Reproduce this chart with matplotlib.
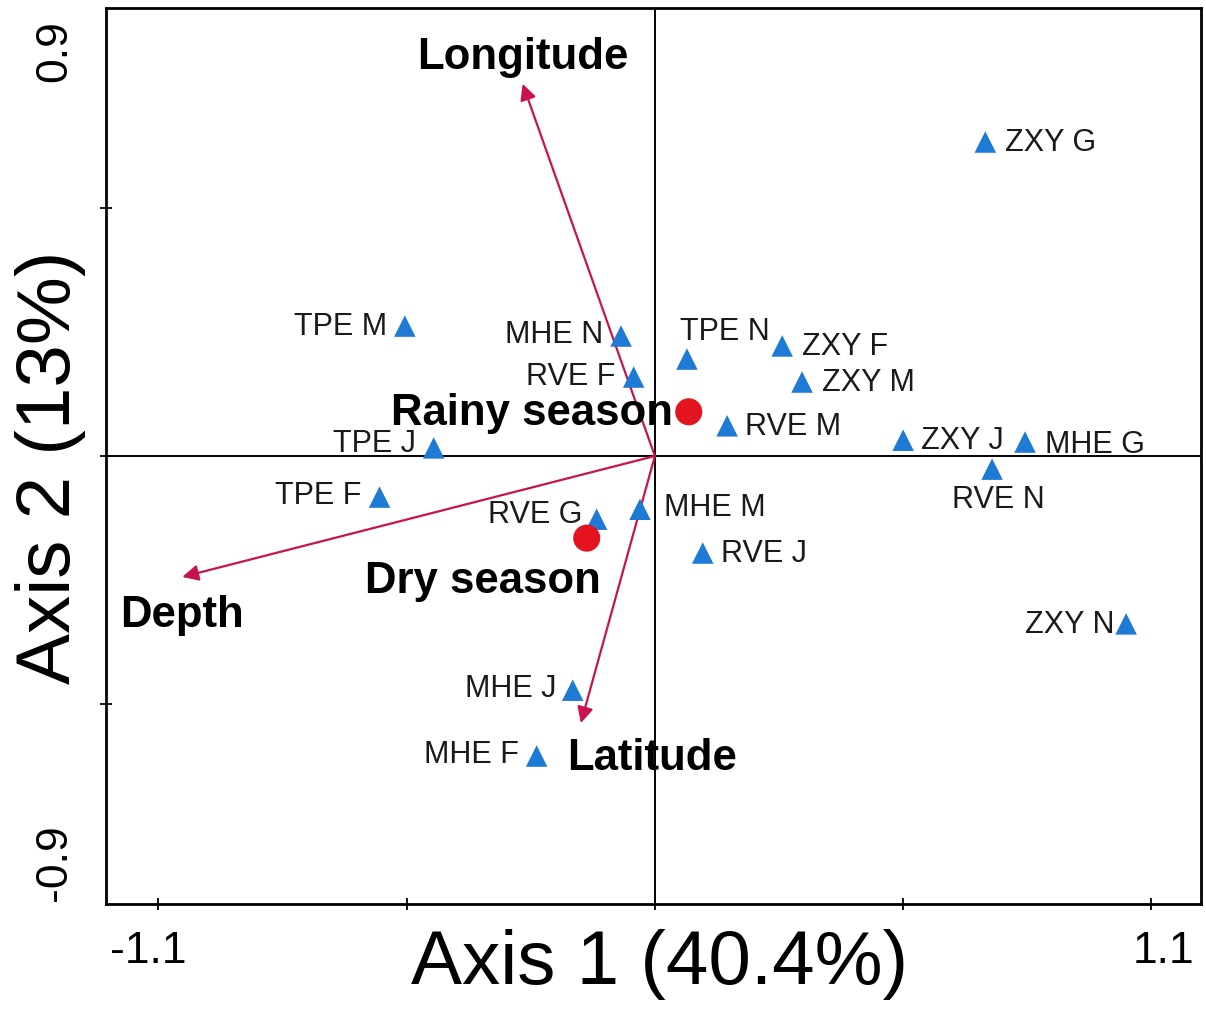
import matplotlib
matplotlib.use("Agg")
import matplotlib.pyplot as plt
import matplotlib.transforms as mtransforms

plt.rcParams['font.family'] = ['Liberation Sans', 'DejaVu Sans']

# sample scores on the first two axes
sites = ['ZXY G', 'TPE M', 'MHE N', 'TPE N', 'ZXY F', 'RVE F', 'ZXY M', 'RVE M',
         'TPE J', 'ZXY J', 'MHE G', 'RVE N', 'TPE F', 'RVE G', 'MHE M', 'RVE J',
         'ZXY N', 'MHE J', 'MHE F']
site_x = [0.732, -0.554, -0.075, 0.071, 0.282, -0.047, 0.326, 0.160,
          -0.490, 0.550, 0.820, 0.747, -0.610, -0.129, -0.033, 0.106,
          1.044, -0.182, -0.262]
site_y = [0.696, 0.288, 0.266, 0.215, 0.244, 0.175, 0.164, 0.067,
          0.018, 0.035, 0.031, -0.029, -0.091, -0.140, -0.118, -0.215,
          -0.372, -0.519, -0.665]

# season centroids
seasons = ['Rainy season', 'Dry season']
season_x = [0.075, -0.151]
season_y = [0.098, -0.182]

# environmental vectors
env_vars = ['Longitude', 'Depth', 'Latitude']
env_x = [-0.293, -1.047, -0.164]
env_y = [0.825, -0.268, -0.592]

# label placement (offset in pixels, horizontal alignment)
site_lab = {
    'ZXY G': (20, 0, 'left'), 'TPE M': (-18, 0, 'right'), 'MHE N': (-18, 2, 'right'),
    'TPE N': (38, 28, 'center'), 'ZXY F': (20, 0, 'left'), 'RVE F': (-18, 1, 'right'),
    'ZXY M': (20, 0, 'left'), 'RVE M': (18, 0, 'left'), 'TPE J': (-18, 5, 'right'),
    'ZXY J': (18, 0, 'left'), 'MHE G': (20, -2, 'left'), 'RVE N': (6, -30, 'center'),
    'TPE F': (-18, 2, 'right'), 'RVE G': (-14, 5, 'right'), 'MHE M': (24, 2, 'left'),
    'RVE J': (18, 0, 'left'), 'ZXY N': (-12, 0, 'right'), 'MHE J': (-16, 2, 'right'),
    'MHE F': (-18, 2, 'right'),
}
season_lab = {'Rainy season': (-16, -1, 'right'), 'Dry season': (14, -42, 'right')}
env_lab = {'Longitude': (0, 27, 'center'), 'Depth': (0, -38, 'center'),
           'Latitude': (-14, -34, 'left')}

px = 72 / 100.0
blue = '#1f7ad6'
red = '#e3131f'
arrow_col = '#c8144c'

fig = plt.figure(figsize=(12.06, 10.12), dpi=100)
ax = fig.add_axes([0.0879, 0.1057, 0.9080, 0.8854])

ax.axhline(0, color='black', lw=1.4, zorder=1)
ax.axvline(0, color='black', lw=1.4, zorder=1)

for name, vx, vy in zip(env_vars, env_x, env_y):
    ax.annotate('', xy=(vx, vy), xytext=(0, 0),
                arrowprops=dict(arrowstyle='-|>', color=arrow_col, lw=1.6,
                                mutation_scale=24, shrinkA=0, shrinkB=0),
                zorder=2)
    dx, dy, ha = env_lab[name]
    ax.annotate(name, xy=(vx, vy), xytext=(dx * px, dy * px), textcoords='offset points',
                ha=ha, va='center', fontsize=31.5, fontweight='bold', zorder=4)

ax.scatter(site_x, site_y, marker='^', s=240, color=blue, edgecolors='none', zorder=3)
for name, sx, sy in zip(sites, site_x, site_y):
    dx, dy, ha = site_lab[name]
    ax.annotate(name, xy=(sx, sy), xytext=(dx * px, dy * px), textcoords='offset points',
                ha=ha, va='center', fontsize=22, color='#1a1a1a', zorder=4)

ax.scatter(season_x, season_y, marker='o', s=380, color=red, edgecolors='none', zorder=3)
for name, sx, sy in zip(seasons, season_x, season_y):
    dx, dy, ha = season_lab[name]
    ax.annotate(name, xy=(sx, sy), xytext=(dx * px, dy * px), textcoords='offset points',
                ha=ha, va='center', fontsize=31.5, fontweight='bold', zorder=4)

ax.set_xlim(-1.216, 1.21)
ax.set_ylim(-0.993, 0.993)

ax.set_xticks([-1.1, -0.55, 0, 0.55, 1.1])
ax.set_xticklabels(['-1.1', '', '', '', '1.1'], fontsize=32)
ax.tick_params(axis='x', direction='inout', length=9, width=1.3, pad=14)
# nudge the end labels outward a little
for lab, shift in zip(ax.get_xticklabels()[::4], (-10, 12)):
    off = mtransforms.ScaledTranslation(shift / 100.0, 0, fig.dpi_scale_trans)
    lab.set_transform(lab.get_transform() + off)

ax.set_yticks([-0.9, 0.9])
ax.set_yticklabels(['-0.9', '0.9'], fontsize=32, rotation=90, va='center')
ax.set_yticks([-0.55, 0, 0.55], minor=True)
ax.tick_params(axis='y', which='major', length=0, pad=22)
ax.tick_params(axis='y', which='minor', direction='inout', length=9, width=1.3)

for sp in ax.spines.values():
    sp.set_linewidth(2.0)

fig.text(0.547, 0.047, 'Axis 1 (40.4%)', fontsize=55, ha='center', va='center')
fig.text(0.042, 0.538, 'Axis 2 (13%)', fontsize=55, ha='center', va='center', rotation=90)

fig.savefig('out.png', dpi=100, facecolor='white')
